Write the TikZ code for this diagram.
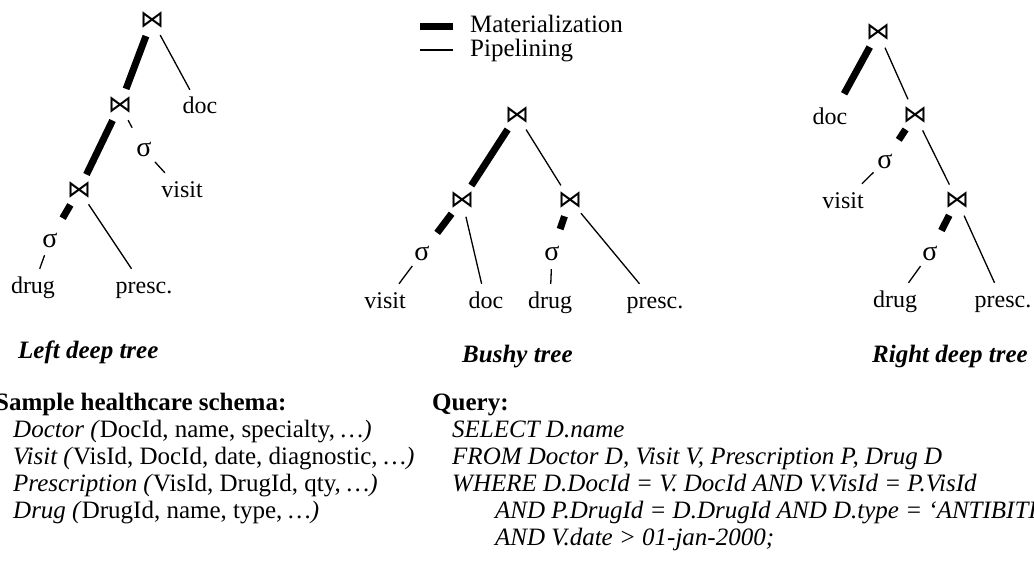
\documentclass[tikz,border=0pt]{standalone}
\usepackage{fontspec}
\setmainfont{Liberation Serif}
\newfontfamily\symfont{DejaVu Sans}
\begin{document}
\begin{tikzpicture}[x=1pt,y=-1pt,
  every node/.style={font=\fontsize{25}{27}\selectfont},
  joinop/.style={circle, minimum size=34pt, inner sep=0pt, font=\symfont\fontsize{24}{24}\selectfont},
  selop/.style={circle, minimum size=32pt, inner sep=0pt, anchor=base, font=\fontsize{28}{28}\selectfont},
  leaf/.style={rectangle, inner xsep=2pt, inner ysep=8pt, text height=16pt, text depth=5pt, anchor=base, font=\fontsize{24}{27}\selectfont},
  mat/.style={line width=7pt},
  pipe/.style={line width=1.3pt},
  intosel/.style={shorten >=9pt},
  caption/.style={font=\bfseries\itshape\fontsize{25}{27}\selectfont, anchor=base west, inner sep=0pt},
  head/.style={font=\bfseries\fontsize{25}{27}\selectfont, anchor=base west, inner sep=0pt},
  txt/.style={anchor=base west, inner sep=0pt},
  sql/.style={font=\itshape\fontsize{25}{27}\selectfont, anchor=base west, inner sep=0pt},
  ]
\useasboundingbox (0,0) rectangle (1034,583);
\clip (0,0) rectangle (1034,583);

% legend
\coordinate (m1) at (420,27);
\coordinate (m2) at (453,27);
\coordinate (p1) at (420,50);
\coordinate (p2) at (453,50);
\draw[mat] (m1) -- (m2);
\draw[pipe] (p1) -- (p2);
\node[txt] (lm) at (470,33) {Materialization};
\node[txt] (lp) at (470,57) {Pipelining};

% left deep tree
\node[joinop] (Lj1) at (152,20) {⋈};
\node[joinop] (Lj2) at (120,105) {⋈};
\node[joinop] (Lj3) at (79,190) {⋈};
\node[leaf] (Ldoc) at (200,114) {doc};
\node[selop] (Ls1) at (144,157) {σ};
\node[leaf] (Lvisit) at (182,197) {visit};
\node[selop] (Ls2) at (50,247) {σ};
\node[leaf] (Ldrug) at (33,293) {drug};
\node[leaf] (Lpresc) at (144,293) {presc.};
\draw[mat] (Lj1) -- (Lj2);
\draw[pipe] (Lj1) -- (Ldoc);
\draw[mat] (Lj2) -- (Lj3);
\draw[pipe,intosel] (Lj2) -- (Ls1);
\draw[pipe] (Ls1) -- (Lvisit);
\draw[mat,intosel] (Lj3) -- (Ls2);
\draw[pipe] (Ls2) -- (Ldrug);
\draw[pipe] (Lj3) -- (Lpresc);

% bushy tree
\node[joinop] (Bj1) at (517,115) {⋈};
\node[joinop] (Bj2) at (462,200) {⋈};
\node[joinop] (Bj3) at (570,200) {⋈};
\node[selop] (Bs1) at (422,260) {σ};
\node[selop] (Bs2) at (552,260) {σ};
\node[leaf] (Bvisit) at (385,308) {visit};
\node[leaf] (Bdoc) at (486,308) {doc};
\node[leaf] (Bdrug) at (550,308) {drug};
\node[leaf] (Bpresc) at (655,308) {presc.};
\draw[mat] (Bj1) -- (Bj2);
\draw[pipe] (Bj1) -- (Bj3);
\draw[mat,intosel] (Bj2) -- (Bs1);
\draw[pipe] (Bj2) -- (Bdoc);
\draw[mat,intosel] (Bj3) -- (Bs2);
\draw[pipe] (Bj3) -- (Bpresc);
\draw[pipe] (Bs1) -- (Bvisit);
\draw[pipe] (Bs2) -- (Bdrug);

% right deep tree
\node[joinop] (Rj1) at (878,32) {⋈};
\node[joinop] (Rj2) at (915,115) {⋈};
\node[joinop] (Rj3) at (957,200) {⋈};
\node[leaf] (Rdoc) at (830,125) {doc};
\node[selop] (Rs1) at (885,168) {σ};
\node[leaf] (Rvisit) at (843,208) {visit};
\node[selop] (Rs2) at (930,260) {σ};
\node[leaf] (Rdrug) at (895,307) {drug};
\node[leaf] (Rpresc) at (1003,307) {presc.};
\draw[mat,shorten >=8pt] (Rj1) -- (Rdoc);
\draw[pipe] (Rj1) -- (Rj2);
\draw[mat,intosel] (Rj2) -- (Rs1);
\draw[pipe] (Rs1) -- (Rvisit);
\draw[pipe] (Rj2) -- (Rj3);
\draw[mat,intosel] (Rj3) -- (Rs2);
\draw[pipe] (Rs2) -- (Rdrug);
\draw[pipe] (Rj3) -- (Rpresc);

% captions
\node[caption] (cl) at (18,358) {Left deep tree};
\node[caption] (cb) at (462,362) {Bushy tree};
\node[caption] (cr) at (872,362) {Right deep tree};

% schema
\node[head] (sh) at (-5,410) {Sample healthcare schema:};
\node[txt] (s1) at (13,437) {\textit{Doctor (}DocId, name, specialty, \textit{…)}};
\node[txt] (s2) at (13,464) {\textit{Visit (}VisId, DocId, date, diagnostic, \textit{…)}};
\node[txt] (s3) at (13,491) {\textit{Prescription (}VisId, DrugId, qty, \textit{…)}};
\node[txt] (s4) at (13,518) {\textit{Drug (}DrugId, name, type, \textit{…)}};

% query
\node[head] (qh) at (432,410) {Query:};
\node[sql] (q1) at (452,437) {SELECT D.name};
\node[sql] (q2) at (452,464) {FROM Doctor D, Visit V, Prescription P, Drug D};
\node[sql] (q3) at (452,491) {WHERE D.DocId = V. DocId AND V.VisId = P.VisId};
\node[sql] (q4) at (495,518) {AND P.DrugId = D.DrugId AND D.type = ‘ANTIBITIC’};
\node[sql] (q5) at (495,545) {AND V.date > 01-jan-2000;};
\end{tikzpicture}
\end{document}
